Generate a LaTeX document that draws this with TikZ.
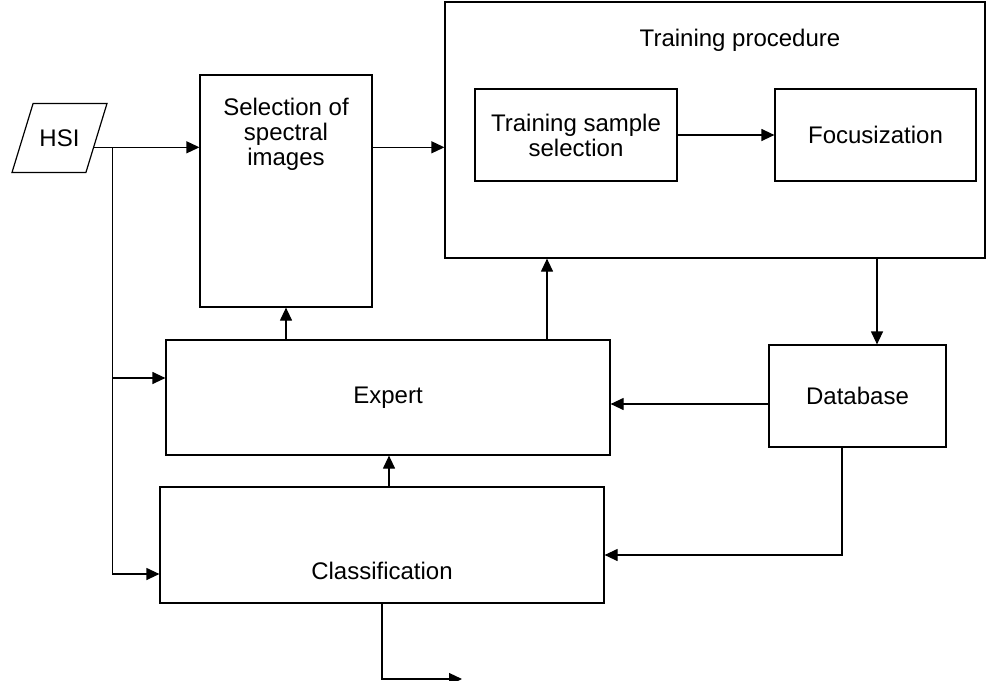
\documentclass[tikz,border=0pt]{standalone}
\usepackage{fontspec}
\setmainfont{Liberation Sans}
\usetikzlibrary{arrows.meta,shapes.geometric}

\begin{document}
\begin{tikzpicture}[x=1pt, y=-1pt, line width=1.2pt,
     font=\fontsize{24}{25}\selectfont,
     box/.style={draw, rectangle, inner sep=0pt},
     arr/.style={-{Triangle[length=13pt,width=12pt]}}]
\useasboundingbox (0,0) rectangle (987,680);
%
       \node [draw, trapezium, trapezium left angle=73, trapezium right angle=107,
              inner xsep=2pt, inner ysep=26pt, trapezium stretches body=true,
              minimum width=95pt] at (59.5,138) (hsi) {HSI};
          \node [box, minimum width=172pt, minimum height=232pt] at (286,191) (sel) {};
            \node [align=center] at (286,134) (seltxt) {Selection of\\spectral\\images};
             \node [box, minimum width=540pt, minimum height=256pt] at (715,130) (train) {};
              \node at (740,40) (trainttl) {Training procedure};
               \node [box, align=center, minimum width=202pt, minimum height=92pt] at (576,135) (tss) {Training sample\\selection};
                \node [box, minimum width=201pt, minimum height=92pt] at (875.5,135) (foc) {Focusization};
                  \node [box, minimum width=444pt, minimum height=115pt] at (388,397.5) (expert) {Expert};
                   \node [box, minimum width=177pt, minimum height=102pt] at (857.5,396) (db) {Database};
                     \node [box, minimum width=444pt, minimum height=116pt] at (382,545) (cls) {};
                      \node at (382,571) (clstxt) {Classification};
%
\path (hsi.-15) ++(18,0) coordinate (split);
\coordinate (output) at (462,679);
%
\draw[arr] (hsi.-15) -- (hsi.-15 -| sel.west);
\draw[arr] (sel.east |- hsi.-15) -- (train.west |- hsi.-15);
\draw[arr] (tss.east) -- (foc.west);
\draw[arr] (split) |- ([yshift=19.5pt]expert.west);
\draw[arr] (split) |- ([yshift=-29pt]cls.west);
\draw[arr] (sel.south |- expert.north) -- (sel.south);
\draw[arr] ([xshift=159pt]expert.north) -- ([xshift=159pt]expert.north |- train.south);
\draw[arr] ([xshift=162pt]train.south) -- ([xshift=162pt]train.south |- db.north);
\draw[arr] ([yshift=-8pt]db.west) -- ([yshift=-8pt]db.west -| expert.east);
\draw[arr] ([xshift=-15.5pt]db.south) |- ([yshift=-10pt]cls.east);
\draw[arr] ([xshift=7pt]cls.north) -- ([xshift=7pt]cls.north |- expert.south);
\draw[arr] (cls.south) |- (output);

\end{tikzpicture}
\end{document}
